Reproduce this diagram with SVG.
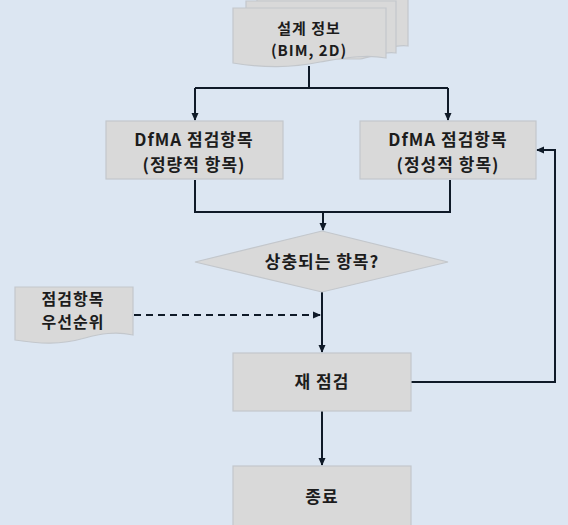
<svg xmlns="http://www.w3.org/2000/svg" width="568" height="525" viewBox="0 0 568 525">
<defs>
<style>
.box{fill:#d9d9d9;stroke:#c3c7cc;stroke-width:1.2}
.t{font-family:"Noto Sans CJK KR","Liberation Sans",sans-serif;font-weight:bold;font-size:17px;letter-spacing:1px;fill:#1c1c1c;text-anchor:middle}
.s{font-size:15px}
.c{fill:none;stroke:#0f1a28;stroke-width:2}
.d{fill:none;stroke:#0f1a28;stroke-width:2;stroke-dasharray:7,5}
</style>
<marker id="ah" markerWidth="8" markerHeight="8" refX="7" refY="4" orient="auto" markerUnits="userSpaceOnUse">
<path d="M0,0.5 L8,4 L0,7.5 Z" fill="#0f1a28"/>
</marker>
</defs>
<rect width="568" height="525" fill="#dce6f2"/>

<g id="connectors">
<path class="c" d="M309,66 V88"/>
<path class="c" d="M195,88 H448" />
<path class="c" d="M195,88 V120" marker-end="url(#ah)"/>
<path class="c" d="M448,88 V120" marker-end="url(#ah)"/>
<path class="c" d="M195,180 V212 H450 V180"/>
<path class="c" d="M323,212 V230" marker-end="url(#ah)"/>
<path class="c" d="M322,292 V352" marker-end="url(#ah)"/>
<path class="d" d="M134,315 H320" marker-end="url(#ah)"/>
<path class="c" d="M411,382 H555 V150 H537" marker-end="url(#ah)"/>
<path class="c" d="M322,411 V465" marker-end="url(#ah)"/>
</g>

<g id="design-info">
<path class="box" d="M257,-6 H408 V46 C395,44 385,50 372,52 L257,52 Z"/>
<path class="box" d="M246,1 H396 V53 C383,51 372,57 360,59 L246,59 Z"/>
<path class="box" d="M233,8 H386 V58 C365,54 345,58 320,62 C290,68 265,68 233,63 Z"/>
<text class="t s" x="309" y="34">설계 정보</text>
<text class="t s" x="309" y="56">(BIM, 2D)</text>
</g>

<g id="quantitative">
<rect class="box" x="106" y="121" width="177" height="58"/>
<text class="t" x="194" y="146">DfMA 점검항목</text>
<text class="t" x="194" y="171">(정량적 항목)</text>
</g>

<g id="qualitative">
<rect class="box" x="360" y="121" width="176" height="58"/>
<text class="t" x="448" y="146">DfMA 점검항목</text>
<text class="t" x="448" y="171">(정성적 항목)</text>
</g>

<g id="conflict">
<path class="box" d="M322,231 L448,262 L322,292 L195,262 Z"/>
<text class="t" x="322" y="268">상충되는 항목?</text>
</g>

<g id="priority">
<path class="box" d="M15,287 H133 V335 C115,331 100,334 85,338 C60,345 40,344 15,340 Z"/>
<text class="t" x="73" y="305" style="font-size:16px">점검항목</text>
<text class="t" x="73" y="328" style="font-size:16px">우선순위</text>
</g>

<g id="recheck">
<rect class="box" x="233" y="353" width="178" height="58"/>
<text class="t" x="322" y="388">재 점검</text>
</g>

<g id="end">
<rect class="box" x="233" y="466" width="178" height="66"/>
<text class="t" x="322" y="503">종료</text>
</g>
</svg>
